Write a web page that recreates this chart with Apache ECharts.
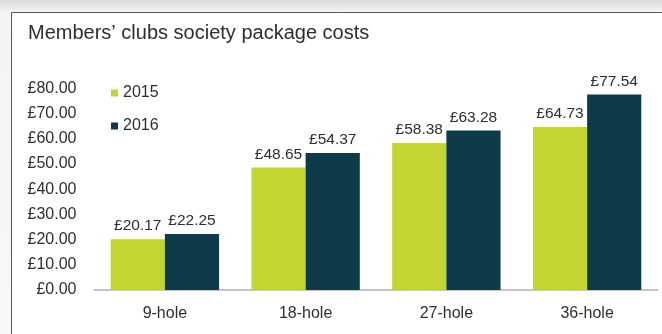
<!DOCTYPE html>
<html>
<head>
<meta charset="utf-8">
<script src="https://cdn.jsdelivr.net/npm/echarts@6/dist/echarts.min.js"></script>
<style>
  html, body { margin: 0; padding: 0; }
  body { width: 662px; height: 334px; overflow: hidden;
    background: linear-gradient(to bottom, #d9d9d9 0px, #f4f4f4 12px, #f7f7f7 100%); }
  #main { width: 662px; height: 334px; }
</style>
</head>
<body>
<div id="main"></div>
<script>
// chart data
const categories = ["9-hole", "18-hole", "27-hole", "36-hole"]
const costs2015 = [20.17, 48.65, 58.38, 64.73]
const costs2016 = [22.25, 54.37, 63.28, 77.54]
const yTicks = [0, 10, 20, 30, 40, 50, 60, 70, 80]

const green = "#c2d530"
const teal = "#0e3b4a"
const textColor = "#2e2e2e"
const font = "'Liberation Sans', Arial, sans-serif"

const pound = v => "£" + v.toFixed(2)

let myChart = echarts.init(document.getElementById("main"), null, {renderer: "canvas"})

let option = {
  animation: false,
  textStyle: { fontFamily: font },
  graphic: [
    {
      type: "rect",
      z: -10,
      shape: { x: 11.5, y: 12.5, width: 700, height: 400 },
      style: { fill: "#ffffff", stroke: "#5a5a5a", lineWidth: 1 }
    }
  ],
  title: {
    text: "Members’ clubs society package costs",
    left: 23,
    top: 18,
    textStyle: { fontFamily: font, fontSize: 20, fontWeight: "normal", color: textColor }
  },
  legend: {
    orient: "vertical",
    left: 106,
    top: 80,
    itemWidth: 7,
    itemHeight: 7,
    itemGap: 17,
    icon: "rect",
    textStyle: { fontFamily: font, fontSize: 16, color: textColor, padding: [0, 0, 0, 0] },
    data: ["2015", "2016"]
  },
  grid: {
    left: 94.5,
    right: 4.5,
    top: 88.4,
    bottom: 44,
    containLabel: false
  },
  xAxis: {
    type: "category",
    data: categories,
    axisLine: { show: true, lineStyle: { color: "#c9c3c3", width: 2 } },
    axisTick: { show: false },
    axisLabel: { fontFamily: font, fontSize: 16, color: textColor, margin: 16 }
  },
  yAxis: {
    type: "value",
    min: yTicks[0],
    max: yTicks[yTicks.length - 1],
    interval: 10,
    splitLine: { show: false },
    axisLine: { show: false },
    axisTick: { show: false },
    axisLabel: {
      fontFamily: font, fontSize: 16, color: textColor, margin: 18,
      formatter: v => pound(v)
    }
  },
  series: [
    {
      name: "2015",
      type: "bar",
      data: costs2015,
      barGap: "0%",
      barCategoryGap: "23%",
      itemStyle: { color: green },
      label: {
        show: true, position: "top", distance: 5,
        fontFamily: font, fontSize: 15.5, color: textColor,
        formatter: p => pound(p.value)
      }
    },
    {
      name: "2016",
      type: "bar",
      data: costs2016,
      barGap: "0%",
      barCategoryGap: "23%",
      itemStyle: { color: teal },
      label: {
        show: true, position: "top", distance: 5,
        fontFamily: font, fontSize: 15.5, color: textColor,
        formatter: p => pound(p.value)
      }
    }
  ]
}

myChart.setOption(option)
</script>
</body>
</html>
